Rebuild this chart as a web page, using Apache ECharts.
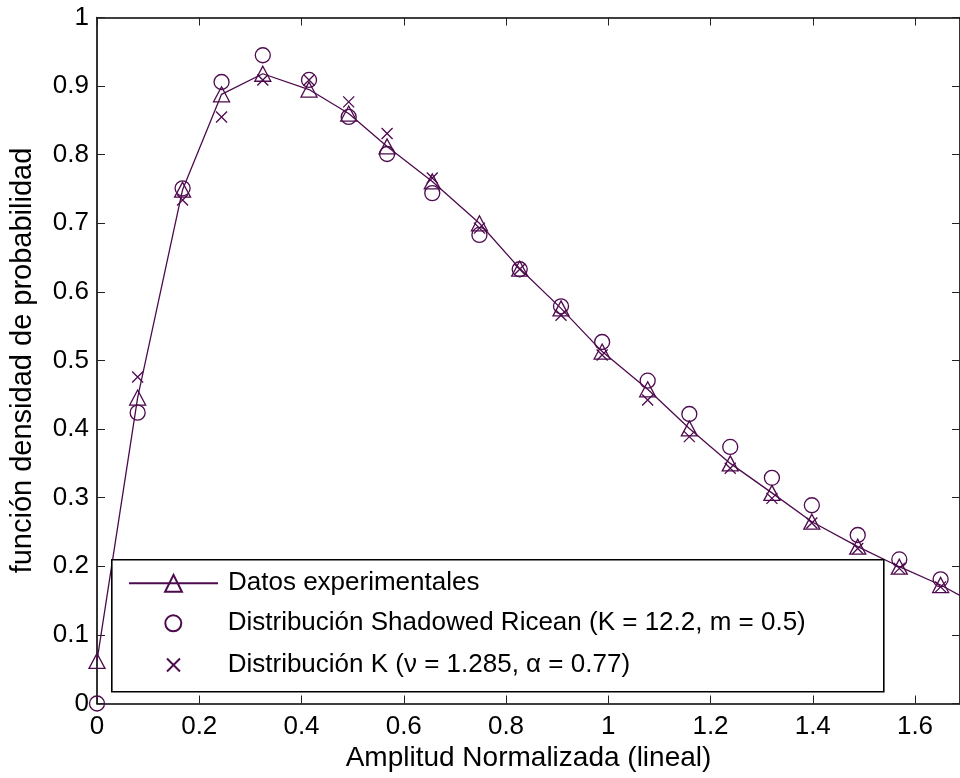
<!DOCTYPE html>
<html>
<head>
<meta charset="utf-8">
<script src="https://cdn.jsdelivr.net/npm/echarts@6/dist/echarts.min.js"></script>
<style>html,body{margin:0;padding:0;background:#fff}#c{width:960px;height:778px}</style>
</head>
<body>
<div id="c"></div>
<script>
// x positions of the samples (Amplitud Normalizada)
var amplitude = [0, 0.0795, 0.1674, 0.2436, 0.3243, 0.4147, 0.4923, 0.5674, 0.6558, 0.748, 0.8268, 0.9076, 0.988, 1.0771, 1.1586, 1.2386, 1.3201, 1.3982, 1.488, 1.5693, 1.6501, 1.731];
var experimental = [0.062, 0.446, 0.749, 0.888, 0.918, 0.895, 0.860, 0.812, 0.761, 0.700, 0.634, 0.576, 0.513, 0.458, 0.401, 0.350, 0.307, 0.265, 0.2286, 0.1994, 0.1727, 0.140];
var shadowedRicean = [0, 0.424, 0.751, 0.906, 0.945, 0.909, 0.855, 0.801, 0.744, 0.683, 0.633, 0.579, 0.527, 0.4706, 0.422, 0.374, 0.329, 0.289, 0.2456, 0.210, 0.181];
var kDist = [null, 0.476, 0.734, 0.855, 0.909, 0.909, 0.877, 0.831, 0.766, 0.693, 0.633, 0.566, 0.508, 0.4424, 0.389, 0.343, 0.299, 0.263, 0.226, 0.197, 0.170];
var xTicks = ['0', '0.2', '0.4', '0.6', '0.8', '1', '1.2', '1.4', '1.6'];
var yTicks = ['0', '0.1', '0.2', '0.3', '0.4', '0.5', '0.6', '0.7', '0.8', '0.9', '1'];
var names = ['Datos experimentales', 'Distribución Shadowed Ricean (K = 12.2, m = 0.5)', 'Distribución K (\u03bd = 1.285, \u03b1 = 0.77)'];

var COL = '#4d0a4d';
var FONT = '"Liberation Sans", Arial, Helvetica, sans-serif';
function pairs(ys) {
  var out = [];
  for (var i = 0; i < ys.length; i++) { if (ys[i] !== null) out.push([amplitude[i], ys[i]]); }
  return out;
}
var XMAX = 1.688;
var chart = echarts.init(document.getElementById('c'), null, {renderer: 'canvas'});
var axisLineStyle = {color: '#000', width: 1.6};
var tickStyle = {show: true, inside: true, length: 8, lineStyle: {color: '#222', width: 1}};
function fmtX(v) { var s = Math.round(v * 10) / 10; return xTicks.indexOf(String(s)) >= 0 ? String(s) : ''; }
function fmtY(v) { var s = Math.round(v * 10) / 10; return yTicks.indexOf(String(s)) >= 0 ? String(s) : ''; }
function legendItem(extra, padLeft) {
  return Object.assign({
    orient: 'vertical', padding: 0,
    textStyle: {fontFamily: FONT, fontSize: 26, color: '#000', lineHeight: 30, padding: [0, 0, 0, padLeft]},
    selectedMode: false, z: 10
  }, extra);
}
chart.setOption({
  animation: false,
  backgroundColor: '#fff',
  grid: {left: 96, right: 0, top: 17.5, bottom: 74.5, containLabel: false},
  xAxis: [{
    type: 'value', min: 0, max: XMAX, interval: 0.2, position: 'bottom',
    name: 'Amplitud Normalizada (lineal)', nameLocation: 'middle', nameGap: 40,
    nameTextStyle: {fontFamily: FONT, fontSize: 28, color: '#000'},
    axisLine: {show: true, onZero: false, lineStyle: axisLineStyle},
    axisTick: tickStyle, splitLine: {show: false},
    axisLabel: {fontFamily: FONT, fontSize: 26, color: '#000', margin: 10, showMaxLabel: false, formatter: fmtX}
  }, {
    type: 'value', min: 0, max: XMAX, interval: 0.2, position: 'top',
    axisLine: {show: true, onZero: false, lineStyle: axisLineStyle},
    axisTick: tickStyle, axisLabel: {show: false}, splitLine: {show: false}
  }],
  yAxis: [{
    type: 'value', min: 0, max: 1, interval: 0.1, position: 'left',
    name: 'función densidad de probabilidad', nameLocation: 'middle', nameGap: 60,
    nameTextStyle: {fontFamily: FONT, fontSize: 29, color: '#000'},
    axisLine: {show: true, onZero: false, lineStyle: axisLineStyle},
    axisTick: tickStyle, splitLine: {show: false},
    axisLabel: {fontFamily: FONT, fontSize: 26, color: '#000', margin: 8, formatter: fmtY}
  }, {
    type: 'value', min: 0, max: 1, interval: 0.1, position: 'right',
    axisLine: {show: true, onZero: false, lineStyle: axisLineStyle},
    axisTick: tickStyle, axisLabel: {show: false}, splitLine: {show: false}
  }],
  graphic: [{
    type: 'rect', left: 111, top: 559, z: 5,
    shape: {width: 772, height: 132},
    style: {fill: '#fff', stroke: '#000', lineWidth: 1.6}
  }],
  legend: [
    legendItem({left: 128, top: 568.3, itemWidth: 89, itemHeight: 21, data: [names[0]]}, 5),
    legendItem({left: 164.3, top: 608.3, itemWidth: 16, itemHeight: 16, data: [names[1]]}, 41.4),
    legendItem({left: 166, top: 650, itemWidth: 13, itemHeight: 13, data: [names[2]]}, 42.7)
  ],
  series: [{
    name: names[0], type: 'line', data: pairs(experimental), clip: true,
    symbol: 'triangle', symbolSize: [16, 15], showAllSymbol: true,
    lineStyle: {color: COL, width: 1.3},
    itemStyle: {color: 'rgba(0,0,0,0)', borderColor: COL, borderWidth: 1.3},
    z: 3
  }, {
    name: names[1], type: 'scatter', data: pairs(shadowedRicean), clip: true,
    symbol: 'circle', symbolSize: 15,
    itemStyle: {color: 'rgba(0,0,0,0)', borderColor: COL, borderWidth: 1.3, opacity: 1},
    z: 3
  }, {
    name: names[2], type: 'scatter', data: pairs(kDist), clip: true,
    symbol: 'path://M0,0L10,10M0,10L10,0', symbolSize: 11,
    itemStyle: {color: 'rgba(0,0,0,0)', borderColor: COL, borderWidth: 1.3, opacity: 1},
    z: 3
  }]
});
</script>
</body>
</html>
